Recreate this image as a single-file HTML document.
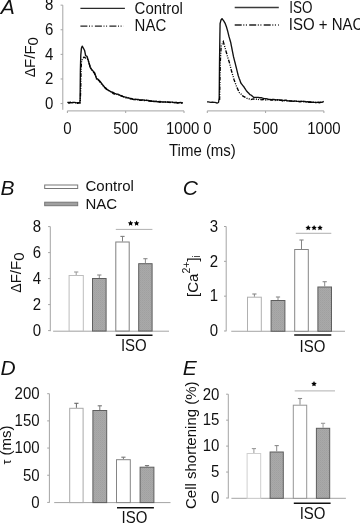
<!DOCTYPE html><html><head><meta charset="utf-8"><style>html,body{margin:0;padding:0;background:#fff;}svg{display:block;filter:blur(0.3px);}text{font-family:"Liberation Sans",sans-serif;fill:#111;}</style></head><body>
<svg width="360" height="524" viewBox="0 0 360 524">
<defs><pattern id="gp" width="2" height="2" patternUnits="userSpaceOnUse"><rect width="2" height="2" fill="#a9a9a9"/><rect width="1" height="1" fill="#a0a0a0"/><rect x="1" y="1" width="1" height="1" fill="#a4a4a4"/></pattern></defs>
<text transform="translate(0.8,13.6) scale(1,1.0)" font-size="21" text-anchor="start" font-style="italic">A</text>
<line x1="62.8" y1="5.15" x2="62.8" y2="109.8" stroke="#a4a4a4" stroke-width="1"/>
<line x1="60.599999999999994" y1="5.15" x2="62.8" y2="5.15" stroke="#a4a4a4" stroke-width="1"/>
<text transform="translate(53.30,10.45) scale(1,1.06)" font-size="15" text-anchor="end">8</text>
<line x1="60.599999999999994" y1="29.759999999999998" x2="62.8" y2="29.759999999999998" stroke="#a4a4a4" stroke-width="1"/>
<text transform="translate(53.30,35.06) scale(1,1.06)" font-size="15" text-anchor="end">6</text>
<line x1="60.599999999999994" y1="54.37" x2="62.8" y2="54.37" stroke="#a4a4a4" stroke-width="1"/>
<text transform="translate(53.30,59.67) scale(1,1.06)" font-size="15" text-anchor="end">4</text>
<line x1="60.599999999999994" y1="78.98" x2="62.8" y2="78.98" stroke="#a4a4a4" stroke-width="1"/>
<text transform="translate(53.30,84.28) scale(1,1.06)" font-size="15" text-anchor="end">2</text>
<line x1="60.599999999999994" y1="103.59" x2="62.8" y2="103.59" stroke="#a4a4a4" stroke-width="1"/>
<text transform="translate(53.30,108.89) scale(1,1.06)" font-size="15" text-anchor="end">0</text>
<text transform="translate(34.7,57.2) rotate(-90)" font-size="15" text-anchor="middle"><tspan font-size="14">Δ</tspan>F/F<tspan dy="3.6">0</tspan></text>
<line x1="67.4" y1="110.9" x2="184.0" y2="110.9" stroke="#a4a4a4" stroke-width="1"/>
<line x1="67.4" y1="110.9" x2="67.4" y2="113.0" stroke="#a4a4a4" stroke-width="1"/>
<text transform="translate(67.40,133.50) scale(1,1.06)" font-size="15" text-anchor="middle">0</text>
<line x1="125.7" y1="110.9" x2="125.7" y2="113.0" stroke="#a4a4a4" stroke-width="1"/>
<text transform="translate(125.70,133.50) scale(1,1.06)" font-size="15" text-anchor="middle">500</text>
<line x1="184.0" y1="110.9" x2="184.0" y2="113.0" stroke="#a4a4a4" stroke-width="1"/>
<text transform="translate(182.70,133.50) scale(1,1.06)" font-size="15" text-anchor="middle">1000</text>
<line x1="207.3" y1="110.9" x2="323.9" y2="110.9" stroke="#a4a4a4" stroke-width="1"/>
<line x1="207.3" y1="110.9" x2="207.3" y2="113.0" stroke="#a4a4a4" stroke-width="1"/>
<text transform="translate(207.30,133.50) scale(1,1.06)" font-size="15" text-anchor="middle">0</text>
<line x1="265.6" y1="110.9" x2="265.6" y2="113.0" stroke="#a4a4a4" stroke-width="1"/>
<text transform="translate(265.60,133.50) scale(1,1.06)" font-size="15" text-anchor="middle">500</text>
<line x1="323.9" y1="110.9" x2="323.9" y2="113.0" stroke="#a4a4a4" stroke-width="1"/>
<text transform="translate(323.90,133.50) scale(1,1.06)" font-size="15" text-anchor="middle">1000</text>
<text transform="translate(202.4,155.7) scale(1,1.07)" font-size="15" text-anchor="middle" >Time (ms)</text>
<line x1="80.4" y1="8.4" x2="124.9" y2="8.4" stroke="#2a2a2a" stroke-width="1.35"/>
<line x1="80.4" y1="26.2" x2="124" y2="26.2" stroke="#222" stroke-width="1.3" stroke-dasharray="7 1.6 1 1.6 1 2.3"/>
<text transform="translate(134.6,13.6) scale(1,1.07)" font-size="15" text-anchor="start" >Control</text>
<text transform="translate(134.6,31.1) scale(1,1.07)" font-size="15" text-anchor="start" >NAC</text>
<line x1="234.7" y1="7.5" x2="278.8" y2="7.5" stroke="#3a3a3a" stroke-width="1.35"/>
<line x1="234.7" y1="25" x2="279" y2="25" stroke="#222" stroke-width="1.3" stroke-dasharray="7 1.6 1 1.6 1 2.3"/>
<text transform="translate(289.2,12.5) scale(1,1.07)" font-size="15" text-anchor="start" textLength="23.2" lengthAdjust="spacingAndGlyphs">ISO</text>
<text transform="translate(288.8,30.0) scale(1,1.07)" font-size="15" text-anchor="start" >ISO + NAC</text>
<polyline points="67.30,102.34 68.55,102.56 69.80,102.48 71.05,102.65 72.30,102.70 73.55,102.39 74.80,102.39 76.05,102.91 77.30,102.60 78.55,102.61 79.80,102.80 79.95,101.40 80.10,100.00 80.11,98.80 80.12,97.60 80.14,96.40 80.15,95.20 80.16,94.00 80.17,92.80 80.18,91.60 80.20,90.40 80.21,89.20 80.22,88.00 80.23,86.80 80.24,85.60 80.26,84.40 80.27,83.20 80.28,82.00 80.29,80.80 80.30,79.60 80.32,78.40 80.33,77.20 80.34,76.00 80.35,74.80 80.36,73.60 80.38,72.40 80.39,71.20 80.40,70.00 80.43,68.75 80.47,67.50 80.50,66.25 80.53,65.00 80.57,63.75 80.60,62.50 80.63,61.25 80.67,60.00 80.70,58.75 80.73,57.50 80.77,56.25 80.80,55.00 80.92,53.70 81.04,52.40 81.16,51.10 81.28,49.80 81.40,48.50 81.80,47.35 82.20,46.20 83.30,48.00 83.95,49.25 84.60,50.50 84.85,51.70 85.10,52.90 85.35,54.10 85.60,55.60 87.00,56.30 87.45,57.70 87.90,59.10 88.27,60.40 88.63,61.70 89.00,63.00 89.33,64.17 89.65,65.35 89.97,66.53 90.30,67.70 91.50,69.48 92.70,70.60 93.65,71.70 94.60,72.80 95.07,74.15 95.55,75.50 96.03,76.85 96.50,78.40 97.70,79.14 98.90,80.10 99.70,81.07 100.50,82.03 101.30,83.00 102.15,84.08 103.00,85.15 103.85,86.22 104.70,87.38 105.85,88.09 107.00,89.38 108.40,90.37 109.80,91.01 110.97,91.73 112.13,92.27 113.30,92.49 114.67,93.42 116.05,93.83 117.42,94.17 118.80,94.52 120.20,95.49 121.60,95.72 123.00,96.33 124.40,96.85 125.80,97.18 127.20,97.73 128.60,97.84 129.97,98.43 131.35,98.57 132.72,99.21 134.10,99.53 135.50,99.18 136.90,99.33 138.30,99.51 139.70,100.08 141.08,99.88 142.46,100.12 143.84,100.04 145.22,100.28 146.60,100.33 148.30,100.51 150.00,100.85 151.25,100.95 152.50,101.24 153.75,101.21 155.00,101.46 156.25,101.51 157.50,101.69 158.75,101.60 160.00,101.40 161.25,101.89 162.50,102.03 163.75,102.07 165.00,101.94 166.25,102.10 167.50,101.88 168.75,102.32 170.00,102.24 171.30,102.14 172.60,102.08 173.90,102.62 175.20,102.77 176.50,102.30 177.80,102.80 179.10,102.64 180.40,102.55 181.70,102.71 183.00,102.90" fill="none" stroke="#111" stroke-width="1.4" stroke-linejoin="round"/>
<polyline points="68.00,102.94 69.22,103.06 70.44,102.33 71.66,102.86 72.88,102.37 74.10,103.00 75.32,102.67 76.54,103.18 77.76,103.29 78.98,102.88 80.20,102.90 80.25,101.61 80.30,100.32 80.35,99.03 80.40,97.74 80.45,96.45 80.50,95.16 80.55,93.87 80.60,92.58 80.65,91.29 80.70,90.00 80.72,88.75 80.74,87.50 80.76,86.25 80.78,85.00 80.79,83.75 80.81,82.50 80.83,81.25 80.85,80.00 80.87,78.75 80.89,77.50 80.91,76.25 80.92,75.00 80.94,73.75 80.96,72.50 80.98,71.25 81.00,70.00 81.08,68.67 81.17,67.33 81.25,66.00 81.33,64.67 81.42,63.33 81.50,62.00 81.83,60.83 82.17,59.67 82.50,58.95 84.00,57.13 86.00,58.22 88.00,59.60 88.38,60.88 88.77,62.17 89.15,63.45 89.53,64.73 89.92,66.02 90.30,67.30 91.10,68.60 91.90,69.90 92.70,71.20 93.65,72.40 94.60,73.60 95.07,74.92 95.55,76.25 96.03,77.58 96.50,78.99 97.70,79.33 98.90,80.60 99.70,81.67 100.50,82.73 101.30,83.80 102.15,84.80 103.00,85.80 103.85,86.80 104.70,87.53 105.85,88.72 107.00,89.90 108.40,90.29 109.80,90.99 110.97,92.36 112.13,92.50 113.30,93.71 114.67,94.11 116.05,94.09 117.42,94.61 118.80,95.12 120.20,95.73 121.60,96.19 123.00,96.65 124.40,97.11 125.80,97.80 127.20,97.81 128.60,98.14 129.97,98.75 131.35,98.66 132.72,99.07 134.10,100.03 135.50,99.74 136.90,99.89 138.30,99.54 139.70,100.02 141.08,100.29 142.46,99.91 143.84,100.56 145.22,100.70 146.60,100.30 148.30,100.96 150.00,100.97 151.25,101.26 152.50,101.07 153.75,101.49 155.00,101.61 156.25,101.07 157.50,101.20 158.75,101.86 160.00,102.22 161.25,101.65 162.50,101.91 163.75,102.11 165.00,101.94 166.25,102.05 167.50,102.08 168.75,102.21 170.00,102.49 171.30,102.28 172.60,102.41 173.90,102.83 175.20,102.21 176.50,102.76 177.80,102.97 179.10,102.65 180.40,102.63 181.70,103.21 183.00,103.00" fill="none" stroke="#000" stroke-width="1.35" stroke-dasharray="3.8 1.3 1 1.3 1 1.3"/>
<polyline points="207.00,101.84 208.29,101.88 209.57,102.10 210.86,102.33 212.14,102.05 213.43,102.25 214.71,102.33 216.00,102.70 217.00,103.16 218.50,102.50 218.73,101.00 218.97,99.50 219.20,98.00 219.21,96.79 219.22,95.57 219.23,94.36 219.24,93.14 219.25,91.93 219.26,90.71 219.27,89.50 219.29,88.29 219.30,87.07 219.31,85.86 219.32,84.64 219.33,83.43 219.34,82.21 219.35,81.00 219.36,79.79 219.37,78.57 219.38,77.36 219.39,76.14 219.40,74.93 219.41,73.71 219.43,72.50 219.44,71.29 219.45,70.07 219.46,68.86 219.47,67.64 219.48,66.43 219.49,65.21 219.50,64.00 219.52,62.79 219.53,61.58 219.55,60.38 219.57,59.17 219.58,57.96 219.60,56.75 219.62,55.54 219.63,54.33 219.65,53.12 219.67,51.92 219.68,50.71 219.70,49.50 219.72,48.29 219.73,47.08 219.75,45.88 219.77,44.67 219.78,43.46 219.80,42.25 219.82,41.04 219.83,39.83 219.85,38.62 219.87,37.42 219.88,36.21 219.90,35.00 219.92,33.72 219.94,32.44 219.97,31.17 219.99,29.89 220.01,28.61 220.03,27.33 220.06,26.06 220.08,24.78 220.10,23.50 220.40,22.33 220.70,21.17 221.00,20.00 222.00,18.60 222.95,19.90 223.90,21.20 224.55,22.30 225.20,23.40 225.75,24.90 226.30,26.40 226.70,27.77 227.10,29.13 227.50,30.50 227.80,31.70 228.10,32.90 228.40,34.10 228.70,35.30 229.00,36.50 229.34,37.68 229.68,38.86 230.02,40.04 230.36,41.22 230.70,42.40 230.96,43.72 231.22,45.04 231.48,46.36 231.74,47.68 232.00,49.00 232.25,50.28 232.50,51.57 232.75,52.85 233.00,54.13 233.25,55.42 233.50,56.70 233.88,58.15 234.25,59.60 234.62,61.05 235.00,62.50 235.35,63.92 235.70,65.35 236.05,66.78 236.40,68.20 236.70,69.42 237.00,70.63 237.30,71.85 237.60,73.07 237.90,74.28 238.20,75.50 238.75,77.10 239.30,78.70 239.73,79.85 240.15,81.00 240.57,82.15 241.00,83.30 241.93,84.43 242.87,85.57 243.80,86.70 244.50,87.80 245.20,88.90 245.90,90.00 246.60,91.10 247.70,92.20 248.80,93.30 249.90,94.61 250.88,94.90 251.85,95.70 252.83,96.59 253.80,97.43 255.27,97.30 256.73,97.30 258.20,97.37 259.70,97.75 261.20,97.68 262.70,98.18 264.35,98.65 266.00,98.71 267.33,98.90 268.67,99.35 270.00,99.39 271.25,99.58 272.50,99.39 273.75,99.36 275.00,99.55 276.25,99.95 277.50,99.73 278.75,99.86 280.00,100.00 281.25,100.10 282.50,100.18 283.75,100.58 285.00,100.22 286.25,100.22 287.50,100.88 288.75,100.93 290.00,101.09 291.25,100.84 292.50,101.22 293.75,101.28 295.00,100.93 296.25,101.32 297.50,101.45 298.75,101.42 300.00,101.41 301.25,101.35 302.50,101.45 303.75,101.46 305.00,101.44 306.25,101.83 307.50,101.72 308.75,102.11 310.00,101.73 311.20,102.29 312.40,102.22 313.60,102.40 314.80,102.44 316.00,102.49 317.20,102.35 318.40,102.06 319.60,102.55 320.80,102.25 322.00,102.38 323.80,101.30" fill="none" stroke="#111" stroke-width="1.35" stroke-linejoin="round"/>
<polyline points="219.60,100.00 219.62,98.77 219.65,97.55 219.67,96.32 219.69,95.10 219.71,93.87 219.74,92.65 219.76,91.42 219.78,90.19 219.80,88.97 219.83,87.74 219.85,86.52 219.87,85.29 219.89,84.06 219.92,82.84 219.94,81.61 219.96,80.39 219.98,79.16 220.01,77.94 220.03,76.71 220.05,75.48 220.07,74.26 220.10,73.03 220.12,71.81 220.14,70.58 220.16,69.35 220.19,68.13 220.21,66.90 220.23,65.68 220.25,64.45 220.28,63.23 220.30,62.00 220.37,60.77 220.44,59.54 220.51,58.31 220.58,57.08 220.65,55.85 220.72,54.62 220.78,53.38 220.85,52.15 220.92,50.92 220.99,49.69 221.06,48.46 221.13,47.23 221.20,46.00 221.90,44.57 222.60,43.13 223.30,41.70 223.67,42.97 224.03,44.23 224.40,45.50 224.78,46.84 225.16,48.18 225.54,49.52 225.92,50.86 226.30,52.20 226.68,53.54 227.06,54.88 227.44,56.22 227.82,57.56 228.20,58.90 228.75,60.55 229.30,62.20 229.60,63.39 229.90,64.57 230.20,65.76 230.50,66.94 230.80,68.13 231.10,69.31 231.40,70.50 231.76,71.74 232.11,72.99 232.47,74.23 232.83,75.47 233.19,76.71 233.54,77.96 233.90,79.20 234.35,80.45 234.80,81.70 235.25,82.95 235.70,84.20 236.15,85.45 236.60,86.70 237.14,87.86 237.68,89.02 238.22,90.18 238.76,91.34 239.30,92.61 240.43,93.55 241.57,94.51 242.70,95.91 244.00,96.58 245.30,97.29 246.60,98.13 248.07,98.92 249.53,99.02 251.00,99.60 252.25,99.20 253.50,98.99 254.75,99.12 256.00,99.22 257.20,98.89 258.40,99.44 259.60,99.66 260.80,99.69 262.00,99.83 263.33,99.32 264.67,99.82 266.00,100.05 267.33,99.55 268.67,99.77 270.00,99.84 271.25,100.08 272.50,100.07 273.75,100.17 275.00,100.44 276.25,99.96 277.50,100.06 278.75,100.18 280.00,100.24 281.25,100.26 282.50,100.96 283.75,100.94 285.00,100.46 286.25,100.81 287.50,100.75 288.75,100.81 290.00,100.90 291.25,101.17 292.50,101.20 293.75,101.11 295.00,101.06 296.25,101.22 297.50,101.15 298.75,101.52 300.00,101.70 301.25,101.53 302.50,101.39 303.75,101.53 305.00,101.74 306.25,101.97 307.50,102.16 308.75,101.95 310.00,102.31 311.20,102.24 312.40,102.15 313.60,102.16 314.80,102.30 316.00,102.49 317.20,102.34 318.40,102.59 319.60,102.47 320.80,102.37 322.00,102.60" fill="none" stroke="#000" stroke-width="1.35" stroke-dasharray="3.8 1.3 1 1.3 1 1.3"/>
<text transform="translate(0.5,195.1) scale(1,1.0)" font-size="21" text-anchor="start" font-style="italic">B</text>
<rect x="44.7" y="185" width="33" height="3.5" fill="#fff" stroke="#777" stroke-width="1"/>
<rect x="44.7" y="202.2" width="33" height="3.5" fill="#a0a0a0" stroke="#777" stroke-width="1"/>
<text transform="translate(85.5,191.3) scale(1,1.02)" font-size="15" text-anchor="start" >Control</text>
<text transform="translate(85.5,208.9) scale(1,1.02)" font-size="15" text-anchor="start" >NAC</text>
<line x1="50.3" y1="226.6" x2="50.3" y2="331.2" stroke="#a4a4a4" stroke-width="1"/>
<line x1="48.099999999999994" y1="226.6" x2="50.3" y2="226.6" stroke="#a4a4a4" stroke-width="1"/>
<text transform="translate(41.20,231.90) scale(1,1.06)" font-size="15" text-anchor="end">8</text>
<line x1="48.099999999999994" y1="252.6" x2="50.3" y2="252.6" stroke="#a4a4a4" stroke-width="1"/>
<text transform="translate(41.20,257.90) scale(1,1.06)" font-size="15" text-anchor="end">6</text>
<line x1="48.099999999999994" y1="278.6" x2="50.3" y2="278.6" stroke="#a4a4a4" stroke-width="1"/>
<text transform="translate(41.20,283.90) scale(1,1.06)" font-size="15" text-anchor="end">4</text>
<line x1="48.099999999999994" y1="304.6" x2="50.3" y2="304.6" stroke="#a4a4a4" stroke-width="1"/>
<text transform="translate(41.20,309.90) scale(1,1.06)" font-size="15" text-anchor="end">2</text>
<line x1="48.099999999999994" y1="330.6" x2="50.3" y2="330.6" stroke="#a4a4a4" stroke-width="1"/>
<text transform="translate(41.20,335.90) scale(1,1.06)" font-size="15" text-anchor="end">0</text>
<text transform="translate(21,272.6) rotate(-90)" font-size="15" text-anchor="middle"><tspan font-size="14">Δ</tspan>F/F<tspan dy="3.4">0</tspan></text>
<line x1="53.1" y1="331.2" x2="169" y2="331.2" stroke="#a4a4a4" stroke-width="1"/>
<rect x="69.1" y="275.5" width="14.200000000000003" height="55.5" fill="#fff" stroke="#bdbdbd" stroke-width="1"/>
<line x1="76.19999999999999" y1="272" x2="76.19999999999999" y2="275" stroke="#9a9a9a" stroke-width="1"/>
<line x1="74.1" y1="272" x2="78.29999999999998" y2="272" stroke="#9a9a9a" stroke-width="1.1"/>
<rect x="92.5" y="278.5" width="13.599999999999994" height="52.5" fill="url(#gp)" stroke="#5e5e5e" stroke-width="1"/>
<line x1="99.3" y1="275" x2="99.3" y2="278" stroke="#8a8a8a" stroke-width="1"/>
<line x1="97.2" y1="275" x2="101.39999999999999" y2="275" stroke="#8a8a8a" stroke-width="1.1"/>
<rect x="115.8" y="242.0" width="13.399999999999991" height="89.0" fill="#fff" stroke="#808080" stroke-width="1"/>
<line x1="122.5" y1="236.4" x2="122.5" y2="241.5" stroke="#808080" stroke-width="1"/>
<line x1="120.4" y1="236.4" x2="124.6" y2="236.4" stroke="#808080" stroke-width="1.1"/>
<rect x="138.7" y="263.7" width="13.400000000000006" height="67.30000000000001" fill="url(#gp)" stroke="#5e5e5e" stroke-width="1"/>
<line x1="145.39999999999998" y1="258.7" x2="145.39999999999998" y2="263.2" stroke="#8a8a8a" stroke-width="1"/>
<line x1="143.29999999999998" y1="258.7" x2="147.49999999999997" y2="258.7" stroke="#8a8a8a" stroke-width="1.1"/>
<line x1="115.8" y1="229.4" x2="152.4" y2="229.4" stroke="#b0b0b0" stroke-width="1"/>
<polygon points="130.60,220.40 131.45,222.13 133.36,222.40 131.98,223.75 132.30,225.65 130.60,224.75 128.90,225.65 129.22,223.75 127.84,222.40 129.75,222.13" fill="#000"/>
<polygon points="136.60,220.40 137.45,222.13 139.36,222.40 137.98,223.75 138.30,225.65 136.60,224.75 134.90,225.65 135.22,223.75 133.84,222.40 135.75,222.13" fill="#000"/>
<line x1="115.8" y1="335.2" x2="152.5" y2="335.2" stroke="#111" stroke-width="1.6"/>
<text transform="translate(133.8,351.3) scale(1,1.07)" font-size="15" text-anchor="middle" >ISO</text>
<text transform="translate(182.7,195.1) scale(1,1.0)" font-size="21" text-anchor="start" font-style="italic">C</text>
<line x1="226.2" y1="226.5" x2="226.2" y2="331.3" stroke="#a4a4a4" stroke-width="1"/>
<line x1="224.0" y1="226.5" x2="226.2" y2="226.5" stroke="#a4a4a4" stroke-width="1"/>
<text transform="translate(218.20,231.80) scale(1,1.06)" font-size="15" text-anchor="end">3</text>
<line x1="224.0" y1="261.33" x2="226.2" y2="261.33" stroke="#a4a4a4" stroke-width="1"/>
<text transform="translate(218.20,266.63) scale(1,1.06)" font-size="15" text-anchor="end">2</text>
<line x1="224.0" y1="296.15999999999997" x2="226.2" y2="296.15999999999997" stroke="#a4a4a4" stroke-width="1"/>
<text transform="translate(218.20,301.46) scale(1,1.06)" font-size="15" text-anchor="end">1</text>
<line x1="224.0" y1="330.99" x2="226.2" y2="330.99" stroke="#a4a4a4" stroke-width="1"/>
<text transform="translate(218.20,336.29) scale(1,1.06)" font-size="15" text-anchor="end">0</text>
<text transform="translate(197.6,276) rotate(-90)" font-size="15" text-anchor="middle">[Ca<tspan dy="-7.6" font-size="10.5">2+</tspan><tspan dy="7.6">]</tspan><tspan dy="2.4" font-size="10.5">i</tspan></text>
<line x1="231.25" y1="331.25" x2="345" y2="331.25" stroke="#a4a4a4" stroke-width="1"/>
<rect x="247.5" y="297.2" width="13.800000000000011" height="34.05000000000001" fill="#fff" stroke="#b0b0b0" stroke-width="1"/>
<line x1="254.4" y1="294" x2="254.4" y2="296.7" stroke="#888" stroke-width="1"/>
<line x1="252.3" y1="294" x2="256.5" y2="294" stroke="#888" stroke-width="1.1"/>
<rect x="271.1" y="300.5" width="13.799999999999955" height="30.75" fill="url(#gp)" stroke="#5e5e5e" stroke-width="1"/>
<line x1="278.0" y1="297" x2="278.0" y2="300" stroke="#8a8a8a" stroke-width="1"/>
<line x1="275.9" y1="297" x2="280.1" y2="297" stroke="#8a8a8a" stroke-width="1.1"/>
<rect x="294.7" y="249.5" width="13.600000000000023" height="81.75" fill="#fff" stroke="#858585" stroke-width="1"/>
<line x1="301.5" y1="240" x2="301.5" y2="249" stroke="#858585" stroke-width="1"/>
<line x1="299.4" y1="240" x2="303.6" y2="240" stroke="#858585" stroke-width="1.1"/>
<rect x="317.9" y="287.0" width="13.600000000000023" height="44.25" fill="url(#gp)" stroke="#5e5e5e" stroke-width="1"/>
<line x1="324.7" y1="281.7" x2="324.7" y2="286.5" stroke="#8a8a8a" stroke-width="1"/>
<line x1="322.59999999999997" y1="281.7" x2="326.8" y2="281.7" stroke="#8a8a8a" stroke-width="1.1"/>
<line x1="295.8" y1="233.3" x2="331.3" y2="233.3" stroke="#b0b0b0" stroke-width="1"/>
<polygon points="308.20,224.90 309.05,226.63 310.96,226.90 309.58,228.25 309.90,230.15 308.20,229.25 306.50,230.15 306.82,228.25 305.44,226.90 307.35,226.63" fill="#000"/>
<polygon points="314.10,224.90 314.95,226.63 316.86,226.90 315.48,228.25 315.80,230.15 314.10,229.25 312.40,230.15 312.72,228.25 311.34,226.90 313.25,226.63" fill="#000"/>
<polygon points="320.00,224.90 320.85,226.63 322.76,226.90 321.38,228.25 321.70,230.15 320.00,229.25 318.30,230.15 318.62,228.25 317.24,226.90 319.15,226.63" fill="#000"/>
<line x1="294.2" y1="335" x2="331.3" y2="335" stroke="#111" stroke-width="1.6"/>
<text transform="translate(312.4,351.5) scale(1,1.07)" font-size="15" text-anchor="middle" >ISO</text>
<text transform="translate(0.5,375.3) scale(1,1.0)" font-size="21" text-anchor="start" font-style="italic">D</text>
<line x1="49.4" y1="393.7" x2="49.4" y2="502.7" stroke="#a4a4a4" stroke-width="1"/>
<line x1="47.199999999999996" y1="393.7" x2="49.4" y2="393.7" stroke="#a4a4a4" stroke-width="1"/>
<text transform="translate(39.60,399.00) scale(1,1.06)" font-size="15" text-anchor="end">200</text>
<line x1="47.199999999999996" y1="420.88" x2="49.4" y2="420.88" stroke="#a4a4a4" stroke-width="1"/>
<text transform="translate(39.60,426.18) scale(1,1.06)" font-size="15" text-anchor="end">150</text>
<line x1="47.199999999999996" y1="448.06" x2="49.4" y2="448.06" stroke="#a4a4a4" stroke-width="1"/>
<text transform="translate(39.60,453.36) scale(1,1.06)" font-size="15" text-anchor="end">100</text>
<line x1="47.199999999999996" y1="475.24" x2="49.4" y2="475.24" stroke="#a4a4a4" stroke-width="1"/>
<text transform="translate(39.60,480.54) scale(1,1.06)" font-size="15" text-anchor="end">50</text>
<line x1="47.199999999999996" y1="502.41999999999996" x2="49.4" y2="502.41999999999996" stroke="#a4a4a4" stroke-width="1"/>
<text transform="translate(39.60,507.72) scale(1,1.06)" font-size="15" text-anchor="end">0</text>
<text transform="translate(11,445) rotate(-90)" font-size="15" text-anchor="middle"><tspan font-size="12.5">τ</tspan> (ms)</text>
<line x1="54.2" y1="502.6" x2="170.5" y2="502.6" stroke="#a4a4a4" stroke-width="1"/>
<rect x="69.7" y="408.3" width="13.399999999999991" height="94.30000000000001" fill="#fff" stroke="#a8a8a8" stroke-width="1"/>
<line x1="76.4" y1="403.3" x2="76.4" y2="407.8" stroke="#666" stroke-width="1"/>
<line x1="74.30000000000001" y1="403.3" x2="78.5" y2="403.3" stroke="#666" stroke-width="1.1"/>
<rect x="92.9" y="410.5" width="13.799999999999997" height="92.10000000000002" fill="url(#gp)" stroke="#5e5e5e" stroke-width="1"/>
<line x1="99.80000000000001" y1="405.8" x2="99.80000000000001" y2="410" stroke="#777" stroke-width="1"/>
<line x1="97.70000000000002" y1="405.8" x2="101.9" y2="405.8" stroke="#777" stroke-width="1.1"/>
<rect x="116.5" y="459.7" width="13.800000000000011" height="42.900000000000034" fill="#fff" stroke="#858585" stroke-width="1"/>
<line x1="123.4" y1="457.2" x2="123.4" y2="459.2" stroke="#777" stroke-width="1"/>
<line x1="121.30000000000001" y1="457.2" x2="125.5" y2="457.2" stroke="#777" stroke-width="1.1"/>
<rect x="140.1" y="467.2" width="13.800000000000011" height="35.400000000000034" fill="url(#gp)" stroke="#5e5e5e" stroke-width="1"/>
<line x1="147.0" y1="465.6" x2="147.0" y2="466.7" stroke="#777" stroke-width="1"/>
<line x1="144.9" y1="465.6" x2="149.1" y2="465.6" stroke="#777" stroke-width="1.1"/>
<line x1="117" y1="507.8" x2="153.9" y2="507.8" stroke="#111" stroke-width="1.6"/>
<text transform="translate(134.4,523) scale(1,1.07)" font-size="15" text-anchor="middle" >ISO</text>
<text transform="translate(182.8,375.1) scale(1,1.0)" font-size="21" text-anchor="start" font-style="italic">E</text>
<line x1="228.3" y1="394.2" x2="228.3" y2="498.4" stroke="#a4a4a4" stroke-width="1"/>
<line x1="226.10000000000002" y1="394.2" x2="228.3" y2="394.2" stroke="#a4a4a4" stroke-width="1"/>
<text transform="translate(219.40,399.50) scale(1,1.06)" font-size="15" text-anchor="end">20</text>
<line x1="226.10000000000002" y1="420.15" x2="228.3" y2="420.15" stroke="#a4a4a4" stroke-width="1"/>
<text transform="translate(219.40,425.45) scale(1,1.06)" font-size="15" text-anchor="end">15</text>
<line x1="226.10000000000002" y1="446.09999999999997" x2="228.3" y2="446.09999999999997" stroke="#a4a4a4" stroke-width="1"/>
<text transform="translate(219.40,451.40) scale(1,1.06)" font-size="15" text-anchor="end">10</text>
<line x1="226.10000000000002" y1="472.04999999999995" x2="228.3" y2="472.04999999999995" stroke="#a4a4a4" stroke-width="1"/>
<text transform="translate(219.40,477.35) scale(1,1.06)" font-size="15" text-anchor="end">5</text>
<line x1="226.10000000000002" y1="498.0" x2="228.3" y2="498.0" stroke="#a4a4a4" stroke-width="1"/>
<text transform="translate(219.40,503.30) scale(1,1.06)" font-size="15" text-anchor="end">0</text>
<text transform="translate(196.1,445.2) rotate(-90)" font-size="15" text-anchor="middle">Cell shortening (%)</text>
<line x1="231.4" y1="498.3" x2="345.9" y2="498.3" stroke="#a4a4a4" stroke-width="1"/>
<rect x="247.1" y="453.5" width="13.599999999999994" height="44.80000000000001" fill="#fff" stroke="#cfcfcf" stroke-width="1"/>
<line x1="253.89999999999998" y1="448.6" x2="253.89999999999998" y2="453" stroke="#999" stroke-width="1"/>
<line x1="251.79999999999998" y1="448.6" x2="255.99999999999997" y2="448.6" stroke="#999" stroke-width="1.1"/>
<rect x="270.1" y="452.0" width="13.199999999999989" height="46.30000000000001" fill="url(#gp)" stroke="#5e5e5e" stroke-width="1"/>
<line x1="276.70000000000005" y1="445.6" x2="276.70000000000005" y2="451.5" stroke="#8a8a8a" stroke-width="1"/>
<line x1="274.6" y1="445.6" x2="278.80000000000007" y2="445.6" stroke="#8a8a8a" stroke-width="1.1"/>
<rect x="293.3" y="405.2" width="13.399999999999977" height="93.10000000000002" fill="#fff" stroke="#959595" stroke-width="1"/>
<line x1="300.0" y1="398.5" x2="300.0" y2="404.7" stroke="#8a8a8a" stroke-width="1"/>
<line x1="297.9" y1="398.5" x2="302.1" y2="398.5" stroke="#8a8a8a" stroke-width="1.1"/>
<rect x="316.4" y="428.3" width="13.300000000000011" height="70.0" fill="url(#gp)" stroke="#5e5e5e" stroke-width="1"/>
<line x1="323.04999999999995" y1="423.3" x2="323.04999999999995" y2="427.8" stroke="#9a9a9a" stroke-width="1"/>
<line x1="320.94999999999993" y1="423.3" x2="325.15" y2="423.3" stroke="#9a9a9a" stroke-width="1.1"/>
<line x1="294.7" y1="390.9" x2="335" y2="390.9" stroke="#b0b0b0" stroke-width="1"/>
<polygon points="314.00,381.10 314.85,382.83 316.76,383.10 315.38,384.45 315.70,386.35 314.00,385.45 312.30,386.35 312.62,384.45 311.24,383.10 313.15,382.83" fill="#000"/>
<line x1="293.8" y1="503.2" x2="330.6" y2="503.2" stroke="#111" stroke-width="1.6"/>
<text transform="translate(312.6,518.5) scale(1,1.07)" font-size="15" text-anchor="middle" >ISO</text>
</svg></body></html>
